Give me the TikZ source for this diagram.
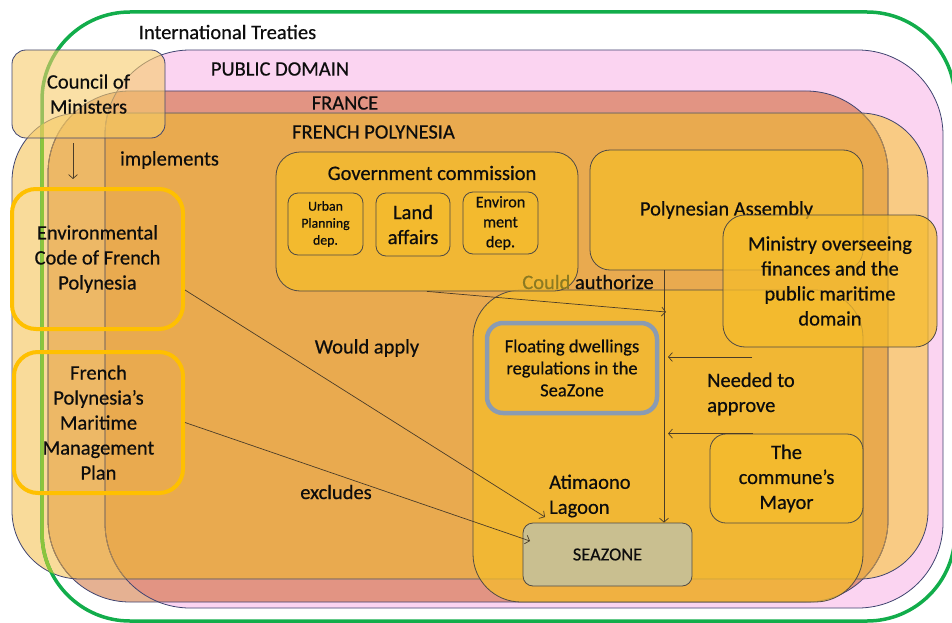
\documentclass[tikz,border=0pt]{standalone}
\usepackage{fontspec}
\setmainfont{Carlito}[UprightFeatures={FakeBold=0.5}]
\usetikzlibrary{arrows.meta}

\definecolor{pinkfill}{HTML}{FBD4F1}
\definecolor{franceonly}{HTML}{E5B192}
\definecolor{francepink}{HTML}{E29483}
\definecolor{fponly}{HTML}{F9DB9A}
\definecolor{fpfrance}{HTML}{EDB866}
\definecolor{fppink}{HTML}{F9CB84}
\definecolor{fpall}{HTML}{E9AA4F}
\definecolor{frameline}{HTML}{3F4470}
\definecolor{fadedline}{HTML}{B08A52}
\definecolor{treaty}{HTML}{12AD4B}
\definecolor{treatyin}{HTML}{8CC43C}
\definecolor{gold}{HTML}{F5BC2C}
\definecolor{goldline}{HTML}{FFC000}
\definecolor{councilfill}{HTML}{F6CC6A}
\definecolor{steel}{HTML}{8A9BB2}
\definecolor{seazonefill}{HTML}{C9BF90}
\definecolor{ink}{HTML}{4A3C28}
\definecolor{boxline}{HTML}{4F4A45}
\definecolor{txt}{HTML}{0D0D0D}
\definecolor{dimtxt}{HTML}{8C7A22}

% outlines of the nested jurisdictions
\def\shapePD{[rounded corners=85pt] (105,50) rectangle (943,608)}
\def\shapeFR{[rounded corners=82pt] (48,91) rectangle (888,602)}
\def\shapeFP{[rounded corners=68pt] (12,113) rectangle (928,579)}

\begin{document}
\begin{tikzpicture}[x=1pt,y=-1pt,
  lbl/.style={font=\fontsize{20.5}{25}\selectfont, text=txt, inner sep=0pt, align=center},
  goldbox/.style={draw=boxline, line width=0.8pt, fill=gold, fill opacity=0.75,
    text opacity=1, inner sep=0pt, align=center, text=txt},
  ringbox/.style={line width=4pt, inner sep=0pt, align=center, text=txt,
    font=\fontsize{20.5}{25}\selectfont},
  conn/.style={draw=ink, line width=0.7pt, -{Straight Barb[length=4pt,width=9pt]}},
]
\useasboundingbox (0,0) rectangle (952,623);

% ---- filled areas of the nested domains ----
\fill[franceonly] \shapeFR;
\begin{scope}
  \clip \shapePD;
  \fill[pinkfill] \shapePD;
  \fill[francepink] \shapeFR;
\end{scope}
\fill[fponly] \shapeFP;
\begin{scope}
  \clip \shapeFP;
  \fill[fpfrance] \shapeFR;
  \fill[fppink] \shapePD;
  \begin{scope}
    \clip \shapeFR;
    \fill[fpall] \shapePD;
  \end{scope}
\end{scope}

% ---- their outlines ----
\draw[frameline, line width=0.8pt] \shapePD;
\draw[frameline, line width=0.8pt] \shapeFR;
\begin{scope}
  \clip \shapeFP;
  \draw[fadedline, line width=0.8pt] \shapePD;
  \draw[fadedline, line width=0.8pt] \shapeFR;
\end{scope}
\draw[frameline, line width=0.8pt] \shapeFP;

% ---- international treaties frame ----
\draw[treaty, line width=3.5pt, rounded corners=88pt] (42,12) rectangle (955,621);
\begin{scope}
  \clip \shapeFP;
  \draw[treatyin, line width=3.5pt, rounded corners=88pt] (42,12) rectangle (955,621);
\end{scope}

% ---- layer titles ----
\node[lbl] (treaties) at (227.5,32) {International Treaties};
\node[lbl] (pdlabel) at (280,69) {PUBLIC DOMAIN};
\node[lbl] (frlabel) at (345,103) {FRANCE};
\node[lbl] (fplabel) at (373.5,132) {FRENCH POLYNESIA};

% ---- Atimaono lagoon ----
\node[goldbox, rounded corners=48pt, minimum width=390pt, minimum height=312pt] (lagoon) at (668,446) {};

% ---- government commission ----
\node[goldbox, rounded corners=24pt, minimum width=302pt, minimum height=139pt] (govcom) at (427,221.5) {};
\node[lbl] (govtitle) at (432,173) {Government commission};
\node[goldbox, rounded corners=10pt, minimum width=75pt, minimum height=62pt,
  font=\fontsize{13.8}{17}\selectfont] (urban) at (325.5,224) {Urban\\Planning\\dep.};
\node[goldbox, rounded corners=10pt, minimum width=74pt, minimum height=63pt,
  font=\fontsize{20.5}{25}\selectfont] (land) at (413,224.5) {Land\\affairs};
\node[goldbox, rounded corners=10pt, minimum width=75pt, minimum height=62pt,
  font=\fontsize{16.2}{20}\selectfont] (envdep) at (500.5,223) {Environ\\ment\\dep.};

\node[lbl] (couldauth) at (588,282) {\textcolor{dimtxt}{Could} authorize};

% ---- Polynesian assembly ----
\node[goldbox, rounded corners=20pt, minimum width=273pt, minimum height=120pt,
  font=\fontsize{20.5}{25}\selectfont] (assembly) at (726.5,210) {Polynesian Assembly};

% ---- regulations, seazone, mayor ----
\node[draw=steel, line width=4.5pt, rounded corners=16pt, minimum width=170pt, minimum height=90pt,
  inner sep=0pt, align=center, text=txt, font=\fontsize{18.5}{22}\selectfont] (floating) at (572,368)
  {Floating dwellings\\regulations in the\\SeaZone};
\node[draw=boxline, line width=0.8pt, fill=seazonefill, rounded corners=10pt, minimum width=169pt,
  minimum height=63pt, inner sep=0pt, text=txt, font=\fontsize{18.4}{22}\selectfont] (seazone) at (607.5,554.5) {SEAZONE};
\node[goldbox, rounded corners=16pt, minimum width=153pt, minimum height=89pt,
  font=\fontsize{20.5}{25}\selectfont] (mayor) at (786.5,478.5) {The\\commune’s\\Mayor};
\node[lbl, anchor=west, align=left] (lagoontext) at (549,496) {Atimaono\\Lagoon};
\node[lbl, anchor=west, align=left] (needed) at (707,394) {Needed to\\approve};

% ---- ministry ----
\node[goldbox, rounded corners=22pt, minimum width=214pt, minimum height=132pt,
  font=\fontsize{20.5}{25}\selectfont] (ministry) at (830,281)
  {Ministry overseeing\\finances and the\\public maritime\\domain};

% ---- legal instruments ----
\node[ringbox, draw=goldline, rounded corners=24pt, minimum width=171pt, minimum height=140pt] (envcode)
  at (97.5,259) {Environmental\\Code of French\\Polynesia};
\node[ringbox, draw=goldline, rounded corners=24pt, minimum width=169pt, minimum height=141pt] (maritime)
  at (98.5,422.5) {French\\Polynesia’s\\Maritime\\Management\\Plan};

\node[lbl] (implements) at (169.5,160) {implements};
\node[lbl] (wouldapply) at (367,348) {Would apply};
\node[lbl] (excludes) at (336,492) {excludes};

% ---- connectors ----
\coordinate (cmx) at (73,0);
\coordinate (vline) at (664,0);
\coordinate (authtip) at (666,312);
\coordinate (minstart) at (752,357);
\coordinate (mintip) at (668,357);
\coordinate (mayx) at (753,0);
\coordinate (tipx) at (668,0);
\coordinate (lagoontip) at (545,517);
\coordinate (seatip) at (530,541);

\draw[conn] (govcom.south) -- (authtip);
\draw[conn] (assembly.south -| vline) -- (seazone.north -| vline);
\draw[conn] (minstart) -- (mintip);
\draw[conn] (mayor.north -| mayx) -- (mayor.north -| tipx);
\draw[conn] ([yshift=-31pt]envcode.east) -- (lagoontip);
\draw[conn] (maritime.east) -- (seatip);

% ---- council of ministers ----
\node[draw=frameline, line width=0.8pt, fill=councilfill, fill opacity=0.6, text opacity=1,
  rounded corners=14pt, minimum width=153pt, minimum height=88pt, inner sep=0pt, align=center,
  text=txt, font=\fontsize{20.5}{25}\selectfont] (council) at (88.5,94) {Council of\\Ministers};
\draw[conn, shorten <=5pt, shorten >=8pt] (council.south -| cmx) -- (envcode.north -| cmx);

\end{tikzpicture}
\end{document}
